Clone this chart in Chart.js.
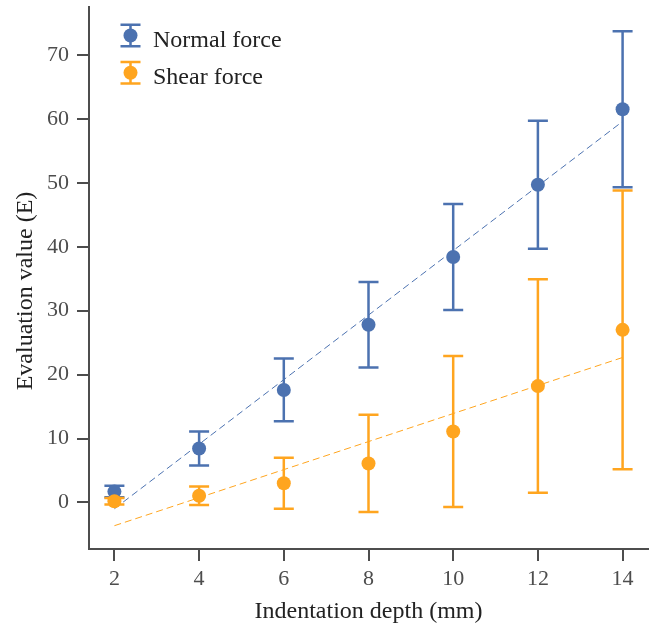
<!DOCTYPE html>
<html>
<head>
<meta charset="utf-8">
<script src="https://cdn.jsdelivr.net/npm/chart.js@4/dist/chart.umd.min.js"></script>
<style>
  html, body { margin: 0; padding: 0; background: #ffffff; }
  canvas { display: block; }
</style>
</head>
<body>
<canvas id="chart" width="657" height="629"></canvas>
<script>
// Indentation depth (mm) and evaluation values (mean ± error)
const depths = [2, 4, 6, 8, 10, 12, 14];
const normalMean = [1.7, 8.45, 17.6, 27.8, 38.4, 49.7, 61.5];
const normalErr  = [0.9, 2.65, 4.9, 6.7, 8.3, 10.0, 12.2];
const shearMean  = [0.2, 1.05, 3.0, 6.1, 11.1, 18.2, 27.0];
const shearErr   = [0.5, 1.45, 4.0, 7.6, 11.8, 16.7, 21.8];
const xTicks = [2, 4, 6, 8, 10, 12, 14];
const yTicks = [0, 10, 20, 30, 40, 50, 60, 70];
const seriesNames = ['Normal force', 'Shear force'];
const xTitle = 'Indentation depth (mm)';
const yTitle = 'Evaluation value (E)';

const BLUE = '#4C72B0';
const ORANGE = '#FFA51F';
const AXIS = '#4d4d4d';
const SERIF = "'Liberation Serif', 'Times New Roman', serif";

// least-squares straight line through the means, drawn over the depth range
function fitLine(xs, ys) {
  const n = xs.length;
  const mx = xs.reduce((a, b) => a + b, 0) / n;
  const my = ys.reduce((a, b) => a + b, 0) / n;
  let sxy = 0, sxx = 0;
  for (let i = 0; i < n; i++) {
    sxy += (xs[i] - mx) * (ys[i] - my);
    sxx += (xs[i] - mx) * (xs[i] - mx);
  }
  const k = sxy / sxx, b = my - k * mx;
  const x0 = xs[0], x1 = xs[n - 1];
  return [{ x: x0, y: k * x0 + b }, { x: x1, y: k * x1 + b }];
}

const toPoints = (xs, ys) => xs.map((x, i) => ({ x, y: ys[i] }));

// vertical error bars with caps, painted just before each point dataset
const errorBars = {
  id: 'errorBars',
  beforeDatasetDraw(chart, args) {
    const ds = chart.data.datasets[args.index];
    if (!ds.errors) return;
    const xs = chart.scales.x, ys = chart.scales.y, ctx = chart.ctx;
    const half = 10;
    ctx.save();
    ctx.strokeStyle = ds.borderColor;
    ctx.lineWidth = 2.5;
    ds.data.forEach((p, i) => {
      const px = xs.getPixelForValue(p.x);
      const top = ys.getPixelForValue(p.y + ds.errors[i]);
      const bot = ys.getPixelForValue(p.y - ds.errors[i]);
      ctx.beginPath();
      ctx.moveTo(px, top); ctx.lineTo(px, bot);
      ctx.moveTo(px - half, top); ctx.lineTo(px + half, top);
      ctx.moveTo(px - half, bot); ctx.lineTo(px + half, bot);
      ctx.stroke();
    });
    ctx.restore();
  }
};

// legend with error-bar markers in the upper left of the plot,
// plus the vertical axis title set slightly below the plot's centre
const annotations = {
  id: 'annotations',
  afterDraw(chart) {
    const ctx = chart.ctx, area = chart.chartArea;
    const items = [
      { label: seriesNames[0], color: BLUE },
      { label: seriesNames[1], color: ORANGE }
    ];
    ctx.save();
    items.forEach((it, i) => {
      const cx = area.left + 41.5;
      const cy = area.top + 28.5 + i * 37.3;
      const h = 10.8;
      ctx.strokeStyle = it.color;
      ctx.fillStyle = it.color;
      ctx.lineWidth = 2.5;
      ctx.beginPath();
      ctx.moveTo(cx, cy - h); ctx.lineTo(cx, cy + h);
      ctx.moveTo(cx - 10, cy - h); ctx.lineTo(cx + 10, cy - h);
      ctx.moveTo(cx - 10, cy + h); ctx.lineTo(cx + 10, cy + h);
      ctx.stroke();
      ctx.beginPath();
      ctx.arc(cx, cy, 7, 0, Math.PI * 2);
      ctx.fill();
      ctx.fillStyle = '#222222';
      ctx.font = '24px ' + SERIF;
      ctx.textBaseline = 'alphabetic';
      ctx.textAlign = 'left';
      ctx.fillText(it.label, cx + 22.5, cy + 11.5);
    });

    ctx.translate(26, (area.top + area.bottom) / 2 + 13);
    ctx.rotate(-Math.PI / 2);
    ctx.fillStyle = '#222222';
    ctx.font = '24px ' + SERIF;
    ctx.textAlign = 'center';
    ctx.textBaseline = 'middle';
    ctx.fillText(yTitle, 0, 0);
    ctx.restore();
  }
};

const axisCommon = {
  grid: { drawOnChartArea: false, drawTicks: true, tickLength: 12, color: AXIS, lineWidth: 2 },
  border: { display: true, color: AXIS, width: 2 },
  ticks: { font: { family: SERIF, size: 22 }, color: AXIS, padding: 8 }
};

new Chart(document.getElementById('chart'), {
  type: 'scatter',
  data: {
    datasets: [
      {
        label: seriesNames[1],
        data: toPoints(depths, shearMean),
        errors: shearErr,
        backgroundColor: ORANGE,
        borderColor: ORANGE,
        pointRadius: 7,
        pointBorderWidth: 0,
        showLine: false,
        order: 0
      },
      {
        label: seriesNames[0],
        data: toPoints(depths, normalMean),
        errors: normalErr,
        backgroundColor: BLUE,
        borderColor: BLUE,
        pointRadius: 7,
        pointBorderWidth: 0,
        showLine: false,
        order: 1
      },
      {
        label: 'Shear fit',
        data: fitLine(depths, shearMean),
        borderColor: ORANGE,
        borderWidth: 1,
        borderDash: [7, 4],
        pointRadius: 0,
        showLine: true,
        order: 2
      },
      {
        label: 'Normal fit',
        data: fitLine(depths, normalMean),
        borderColor: BLUE,
        borderWidth: 1,
        borderDash: [7, 4],
        pointRadius: 0,
        showLine: true,
        order: 3
      }
    ]
  },
  options: {
    responsive: false,
    devicePixelRatio: 1,
    animation: false,
    layout: { padding: { top: 5, right: 9, left: 0, bottom: 0 } },
    plugins: { legend: { display: false }, tooltip: { enabled: false } },
    scales: {
      x: {
        type: 'linear',
        min: 1.4,
        max: 14.6,
        afterBuildTicks: s => { s.ticks = xTicks.map(v => ({ value: v })); },
        afterFit: s => { s.height = 80; s.paddingLeft = 0; s.paddingRight = 0; },
        ...axisCommon,
        ticks: { font: { family: SERIF, size: 22 }, color: AXIS, padding: 5 },
        title: { display: true, text: xTitle, font: { family: SERIF, size: 24 }, color: '#222222', padding: { top: 0, bottom: 3 } }
      },
      y: {
        type: 'linear',
        min: -7.28,
        max: 77.5,
        afterBuildTicks: s => { s.ticks = yTicks.map(v => ({ value: v })); },
        afterFit: s => { s.width = 89; s.paddingTop = 0; s.paddingBottom = 0; },
        ...axisCommon,
        title: { display: false }
      }
    }
  },
  plugins: [errorBars, annotations]
});
</script>
</body>
</html>
